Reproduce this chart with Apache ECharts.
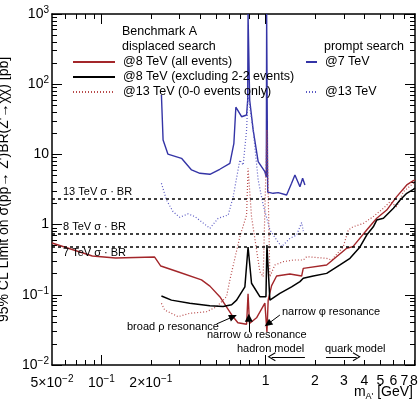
<!DOCTYPE html>
<html>
<head>
<meta charset="utf-8">
<script src="https://cdn.jsdelivr.net/npm/echarts@6/dist/echarts.min.js"></script>
<style>
  html, body { margin: 0; padding: 0; background: #fff; }
  #main { width: 419px; height: 399px; }
</style>
</head>
<body>
<div id="main"></div>
<script>
// axis ranges (GeV, pb)
const xRange = [0.05, 8.13];
const yRange = [0.01, 1000];

// tick positions
const xLabelTicks = [0.05, 0.1, 0.2, 1, 2, 3, 4, 5, 6, 7, 8];
const xMajorTicks = [0.1, 1];
const xMinorTicks = [0.06, 0.07, 0.08, 0.09, 0.2, 0.3, 0.4, 0.5, 0.6, 0.7, 0.8, 0.9, 2, 3, 4, 5, 6, 7, 8];
const yMajorTicks = [0.01, 0.1, 1, 10, 100, 1000];
const yMinorTicks = [
  0.02, 0.03, 0.04, 0.05, 0.06, 0.07, 0.08, 0.09,
  0.2, 0.3, 0.4, 0.5, 0.6, 0.7, 0.8, 0.9,
  2, 3, 4, 5, 6, 7, 8, 9,
  20, 30, 40, 50, 60, 70, 80, 90,
  200, 300, 400, 500, 600, 700, 800, 900
];

// theory cross sections
const xsecNames = ["13 TeV σ · BR", "8 TeV σ · BR", "7 TeV σ · BR"];
const xsecValues = [2.32, 0.735, 0.495];

// displaced search @8 TeV (all events)  [mass GeV, limit pb]
const disp8All = [
  [0.05, 0.547], [0.088, 0.357], [0.122, 0.334], [0.211, 0.345], [0.230, 0.257],
  [0.292, 0.213], [0.407, 0.163], [0.458, 0.133], [0.526, 0.094], [0.632, 0.049],
  [0.678, 0.040], [0.766, 0.038], [0.782, 0.103], [0.798, 0.039], [0.881, 0.047],
  [0.990, 0.076], [1.019, 0.0295], [1.037, 0.084], [1.088, 0.135], [1.167, 0.185],
  [1.406, 0.198], [1.658, 0.185], [1.696, 0.238], [2.355, 0.266], [3.118, 0.46],
  [3.406, 0.485], [4.129, 0.838], [4.752, 1.23], [5.468, 1.61], [6.293, 2.50],
  [7.241, 3.67], [7.943, 4.22], [8.13, 4.31]
];

// displaced search @8 TeV (excluding 2-2 events)
const disp8Excl = [
  [0.232, 0.096], [0.267, 0.084], [0.345, 0.076], [0.458, 0.070], [0.551, 0.068],
  [0.621, 0.072], [0.666, 0.084], [0.748, 0.130], [0.782, 0.48], [0.821, 0.146],
  [0.923, 0.094], [1.005, 0.094], [1.019, 0.51], [1.062, 0.084], [1.222, 0.105],
  [1.44, 0.130], [1.619, 0.154], [1.696, 0.172], [1.951, 0.185], [2.355, 0.202],
  [2.838, 0.266], [3.266, 0.331], [3.758, 0.48], [4.129, 0.71], [4.53, 0.93],
  [4.752, 1.16], [5.221, 1.23], [6.007, 1.71], [6.598, 2.24], [7.241, 2.79],
  [7.943, 3.18], [8.13, 3.32]
];

// displaced search @13 TeV (0-0 events only)
const disp13 = [
  [0.232, 0.0757], [0.243, 0.0607], [0.293, 0.0488], [0.345, 0.0545], [0.437, 0.0574],
  [0.503, 0.0676], [0.578, 0.094], [0.606, 0.163], [0.697, 0.672], [0.766, 1.37],
  [0.782, 6.34], [0.821, 1.30], [0.881, 0.435], [0.923, 0.213], [0.967, 0.181],
  [1.019, 22.3], [1.062, 0.181], [1.139, 0.266], [1.28, 0.296], [1.473, 0.313],
  [1.696, 0.313], [1.778, 0.349], [2.355, 0.331], [2.526, 0.313], [2.973, 0.485],
  [3.189, 0.838], [3.421, 0.933], [3.936, 1.04], [4.53, 1.30], [5.221, 1.71],
  [5.727, 2.12], [6.293, 1.80], [6.902, 2.94], [7.943, 3.88], [8.13, 4.04]
];

// prompt search @7 TeV
const prompt7 = [
  [0.232, 70], [0.2375, 16.0], [0.254, 10.1], [0.3075, 8.8], [0.354, 6.0],
  [0.398, 5.38], [0.458, 5.21], [0.526, 6.14], [0.606, 7.47], [0.641, 14.4],
  [0.659, 47], [0.714, 34.4], [0.766, 36.4], [0.778, 59.6], [0.782, 1000],
  [0.792, 1000], [0.80, 59.6], [0.84, 22.3], [0.901, 7.87], [0.990, 5.67],
  [1.010, 4.77], [1.015, 1000], [1.022, 1000], [1.03, 2.9], [1.112, 2.79],
  [1.193, 2.85], [1.343, 2.64], [1.44, 3.88], [1.509, 5.09], [1.619, 3.47],
  [1.681, 4.57], [1.736, 3.66]
];

// prompt search @13 TeV
const prompt13 = [
  [0.232, 3.88], [0.249, 2.24], [0.273, 1.53], [0.300, 1.27], [0.337, 1.42],
  [0.371, 1.30], [0.458, 0.886], [0.514, 1.23], [0.592, 1.37], [0.635, 2.50],
  [0.697, 8.32], [0.730, 7.06], [0.766, 22.3], [0.782, 70], [0.840, 22.3],
  [0.901, 4.32], [0.967, 1.90], [1.037, 1.04], [1.062, 0.838], [1.167, 0.604],
  [1.252, 0.485], [1.406, 0.638], [1.545, 0.711], [1.658, 1.07], [1.696, 0.81]
];

const FONT = "Liberation Sans";
const lg = Math.log10;
const toLog = arr => arr.map(p => [lg(p[0]), lg(p[1])]);

// 10^n style labels with superscript
function powLabel(v) {
  const e = Math.floor(v + 1e-6);
  const mant = Math.round(Math.pow(10, v - e));
  if (e === 0) return String(mant);
  if (e === 1 && mant === 1) return "10";
  const sup = "{s|" + (e < 0 ? "\u2212" + (-e) : e) + "}";
  return mant === 1 ? "{b|10}" + sup : "{b|" + mant + "×10}" + sup;
}
const labelRich = {
  b: { fontSize: 14, fontFamily: FONT, color: "#000", lineHeight: 18 },
  s: { fontSize: 10, fontFamily: FONT, color: "#000", lineHeight: 10, verticalAlign: "top" }
};

function makeX(pos, ticks, len, withLabels, showLine) {
  return {
    type: "value", position: pos, min: lg(xRange[0]), max: lg(xRange[1]),
    splitLine: { show: false },
    axisLine: { show: showLine, onZero: false, lineStyle: { color: "#000", width: 1.5 } },
    axisTick: { show: true, inside: true, length: len, customValues: ticks.map(lg),
      lineStyle: { color: "#000", width: 1 } },
    axisLabel: withLabels ? { show: true, customValues: xLabelTicks.map(lg), margin: 9,
      formatter: powLabel, rich: labelRich, fontSize: 14, fontFamily: FONT, color: "#000" }
      : { show: false }
  };
}
function makeY(pos, ticks, len, withLabels, showLine) {
  const ax = {
    type: "value", position: pos, min: lg(yRange[0]), max: lg(yRange[1]),
    splitLine: { show: false },
    axisLine: { show: showLine, onZero: false, lineStyle: { color: "#000", width: 1.5 } },
    axisTick: { show: true, inside: true, length: len, customValues: ticks.map(lg),
      lineStyle: { color: "#000", width: 1 } },
    axisLabel: withLabels ? { show: true, customValues: yMajorTicks.map(lg), margin: 3,
      formatter: powLabel, rich: labelRich, fontSize: 14, fontFamily: FONT, color: "#000" }
      : { show: false }
  };
  if (withLabels) {
    ax.name = "95% CL Limit on σ(pp→ Z')BR(Z'→χχ) [pb]";
    ax.nameLocation = "middle";
    ax.nameGap = 37;
    ax.nameTextStyle = { fontSize: 14, fontFamily: FONT, color: "#000" };
  }
  return ax;
}

const chart = echarts.init(document.getElementById("main"), null, { renderer: "canvas" });

function lineSeries(name, data, color, type, width) {
  return {
    name: name, type: "line", data: toLog(data), symbol: "none",
    xAxisIndex: 0, yAxisIndex: 0, animation: false, silent: true,
    lineStyle: { color: color, width: width, type: type },
    itemStyle: { color: color }
  };
}

const arrowHead = "path://M5,0 L10,9 L8.8,9.6 L5,2.4 L1.2,9.6 L0,9 Z";
function arrow(p1, p2, sym, size) {
  return [
    { coord: [lg(p1[0]), lg(p1[1])], symbol: "none" },
    { coord: [lg(p2[0]), lg(p2[1])], symbol: sym, symbolSize: size }
  ];
}

const seriesList = [
  lineSeries("@7 TeV", prompt7, "#3434a6", "solid", 1.4),
  lineSeries("@13 TeV", prompt13, "#5a5ac4", [1, 2], 1.2),
  lineSeries("@13 TeV (0-0 events only)", disp13, "#b84a4a", [1, 2], 1.2),
  lineSeries("@8 TeV (all events)", disp8All, "#a3262a", "solid", 1.4),
  lineSeries("@8 TeV (excluding 2-2 events)", disp8Excl, "#000000", "solid", 1.5)
];

// theory lines and annotation arrows
seriesList.push({
  name: "annotations", type: "line", data: [], xAxisIndex: 0, yAxisIndex: 0,
  animation: false, silent: true,
  markLine: {
    silent: true, animation: false, symbol: "none",
    lineStyle: { color: "#000", width: 1.5, type: [3, 3] },
    label: { show: false },
    data: xsecValues.map((v, i) => ({
      yAxis: lg(v),
      label: {
        show: true, formatter: xsecNames[i],
        position: i === 2 ? "insideStartBottom" : "insideStartTop",
        distance: [11, 1], fontSize: 11, fontFamily: FONT, color: "#000"
      }
    })).concat([
      arrow([0.5026, 0.0384], [0.6346, 0.0488], "triangle", [7, 8]),
      arrow([0.79, 0.0295], [0.79, 0.0470], "triangle", [8, 8]),
      arrow([1.222, 0.0515], [1.033, 0.0384], "triangle", [7, 8]),
      arrow([1.736, 0.0131], [1.088, 0.0131], arrowHead, [9, 8]),
      arrow([2.332, 0.0131], [3.589, 0.0131], arrowHead, [9, 8])
    ].map(a => {
      a[0].lineStyle = { color: "#000", width: 1, type: "solid" };
      a[1].lineStyle = { color: "#000", width: 1, type: "solid" };
      return a;
    }))
  }
});

function legendItem(name, left, cy, w) {
  return {
    data: [name], left: left, top: cy - 7, padding: 0, itemWidth: w, itemHeight: 14,
    selectedMode: false, orient: "horizontal",
    itemStyle: { opacity: 0, borderWidth: 0 },
    textStyle: { fontSize: 12.5, fontFamily: FONT, color: "#000", lineHeight: 14, padding: [0, 0, 0, 3] }
  };
}

function txt(x, y, text, size, align) {
  return {
    type: "text", x: x, y: y, silent: true,
    style: { text: text, fontSize: size, fontFamily: FONT, fill: "#000",
      align: align || "left", verticalAlign: "middle" }
  };
}

chart.setOption({
  backgroundColor: "#fff",
  animation: false,
  grid: { left: 52, right: 4, top: 14, bottom: 34, containLabel: false, outerBoundsMode: "none" },
  xAxis: [
    makeX("bottom", xMajorTicks, 10, true, true),
    makeX("bottom", xMinorTicks, 5, false, false),
    makeX("top", xMajorTicks, 10, false, true),
    makeX("top", xMinorTicks, 5, false, false)
  ],
  yAxis: [
    makeY("left", yMajorTicks, 10, true, true),
    makeY("left", yMinorTicks, 5, false, false),
    makeY("right", yMajorTicks, 10, false, true),
    makeY("right", yMinorTicks, 5, false, false)
  ],
  legend: [
    legendItem("@8 TeV (all events)", 72, 62, 42),
    legendItem("@8 TeV (excluding 2-2 events)", 72, 77, 42),
    legendItem("@13 TeV (0-0 events only)", 72, 92, 42),
    legendItem("@7 TeV", 305, 62, 11),
    legendItem("@13 TeV", 305, 92, 11)
  ],
  graphic: [
    txt(122, 31.7, "Benchmark A", 12.5),
    txt(122, 46.7, "displaced search", 12.5),
    txt(324, 46.7, "prompt search", 12.5),
    txt(127, 327, "broad ρ resonance", 11),
    txt(207, 335, "narrow ω resonance", 11),
    txt(282, 312, "narrow φ resonance", 11),
    txt(237, 349, "hadron model", 11),
    txt(325, 349, "quark model", 11),
    {
      type: "text", x: 413, y: 393, silent: true,
      style: {
        text: "{b|m}{sub|A'}{b| [GeV]}", align: "right", verticalAlign: "middle",
        rich: {
          b: { fontSize: 14, fontFamily: FONT, fill: "#000", lineHeight: 16, verticalAlign: "top" },
          sub: { fontSize: 9, fontFamily: FONT, fill: "#000", lineHeight: 9, verticalAlign: "bottom" }
        }
      }
    }
  ],
  series: seriesList
});
</script>
</body>
</html>
